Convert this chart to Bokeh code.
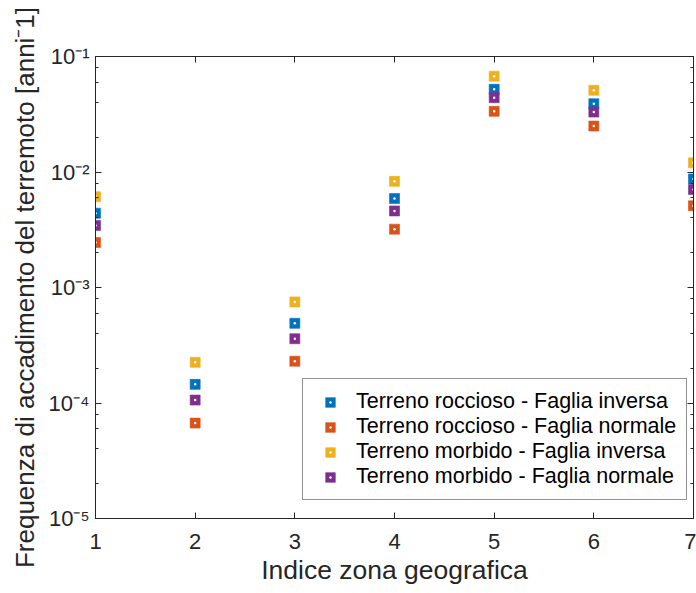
from bokeh.plotting import figure
from bokeh.models import (LogAxis, LinearAxis, FixedTicker, LogTicker, Legend, LegendItem,
                          Range1d, ColumnDataSource, CustomJSTickFormatter)
from bokeh.embed import file_html
from bokeh.resources import INLINE

zones = [1, 2, 3, 4, 5, 6, 7]
roccioso_inversa = [4.4e-3, 1.45e-4, 4.9e-4, 5.9e-3, 5.2e-2, 3.9e-2, 8.7e-3]
roccioso_normale = [2.45e-3, 6.7e-5, 2.3e-4, 3.2e-3, 3.35e-2, 2.5e-2, 5.1e-3]
morbido_inversa = [6.1e-3, 2.25e-4, 7.5e-4, 8.3e-3, 6.75e-2, 5.1e-2, 1.2e-2]
morbido_normale = [3.45e-3, 1.06e-4, 3.6e-4, 4.6e-3, 4.4e-2, 3.3e-2, 7.05e-3]

series_names = ["Terreno roccioso - Faglia inversa", "Terreno roccioso - Faglia normale",
                "Terreno morbido - Faglia inversa", "Terreno morbido - Faglia normale"]
series_values = [roccioso_inversa, roccioso_normale, morbido_inversa, morbido_normale]
colors = ["#0072BD", "#D95319", "#EDB120", "#7E2F8E"]

y_ticks = [1e-5, 1e-4, 1e-3, 1e-2, 1e-1]
y_tick_labels = ["10\u207b\u2075", "10\u207b\u2074", "10\u207b\u00b3", "10\u207b\u00b2", "10\u207b\u00b9"]

FONT = "Liberation Sans"
TXT = "#262626"

p = figure(width=696, height=593, y_axis_type="log",
           x_range=Range1d(1, 7), y_range=Range1d(1e-5, 1e-1),
           output_backend="svg", toolbar_location=None,
           min_border_left=95, min_border_right=3, min_border_top=56, min_border_bottom=75)
p.xgrid.visible = False
p.ygrid.visible = False
p.outline_line_color = TXT
p.outline_line_width = 1
p.background_fill_color = "white"
p.border_fill_color = "white"

def style_axis(ax, labels=True):
    ax.axis_line_color = TXT
    ax.major_tick_line_color = TXT
    ax.minor_tick_line_color = TXT
    ax.major_tick_in = 6
    ax.major_tick_out = 0
    ax.minor_tick_in = 3
    ax.minor_tick_out = 0
    ax.major_label_text_font = FONT
    ax.major_label_text_color = TXT
    ax.major_label_text_font_size = "22px"
    if not labels:
        ax.formatter = CustomJSTickFormatter(code="return '';")
        ax.major_label_standoff = 0

xax = p.xaxis[0]
xax.ticker = FixedTicker(ticks=zones)
style_axis(xax)
xax.major_label_standoff = 15
xax.axis_label = "Indice zona geografica"
xax.axis_label_text_font = FONT
xax.axis_label_text_font_size = "26.5px"
xax.axis_label_text_font_style = "normal"
xax.axis_label_text_color = TXT
xax.axis_label_standoff = 3

yax = p.yaxis[0]
yax.ticker = LogTicker(desired_num_ticks=5)
yax.major_label_overrides = {t: l for t, l in zip(y_ticks, y_tick_labels)}
style_axis(yax)
yax.major_label_standoff = 6
yax.axis_label = "Frequenza di accadimento del terremoto [anni\u207b1]"
yax.axis_label_text_font = FONT
yax.axis_label_text_font_size = "26px"
yax.axis_label_text_font_style = "normal"
yax.axis_label_text_color = TXT
yax.axis_label_standoff = 6

top = LinearAxis(ticker=FixedTicker(ticks=zones))
style_axis(top, labels=False)
p.add_layout(top, "above")
right = LogAxis(ticker=LogTicker(desired_num_ticks=5))
style_axis(right, labels=False)
p.add_layout(right, "right")

items = []
for name, vals, c in zip(series_names, series_values, colors):
    src = ColumnDataSource(dict(x=zones, y=vals))
    r1 = p.scatter("x", "y", source=src, marker="square", size=10,
                   fill_color=c, line_color=c, line_alpha=0.6)
    r2 = p.scatter("x", "y", source=src, marker="dot", size=10,
                   line_color="white", fill_color="white")
    items.append(LegendItem(label=name, renderers=[r1, r2]))

legend = Legend(items=items, location=(207, 18))
legend.label_text_font = FONT
legend.label_text_font_size = "21.5px"
legend.label_text_color = "black"
legend.label_height = 24
legend.glyph_height = 24
legend.glyph_width = 34
legend.label_standoff = 9
legend.spacing = 0
legend.padding = 10
legend.margin = 0
legend.border_line_color = TXT
legend.border_line_width = 1
legend.background_fill_color = "white"
legend.background_fill_alpha = 1
p.add_layout(legend, "center")

open("out.html", "w").write(file_html(p, INLINE))
